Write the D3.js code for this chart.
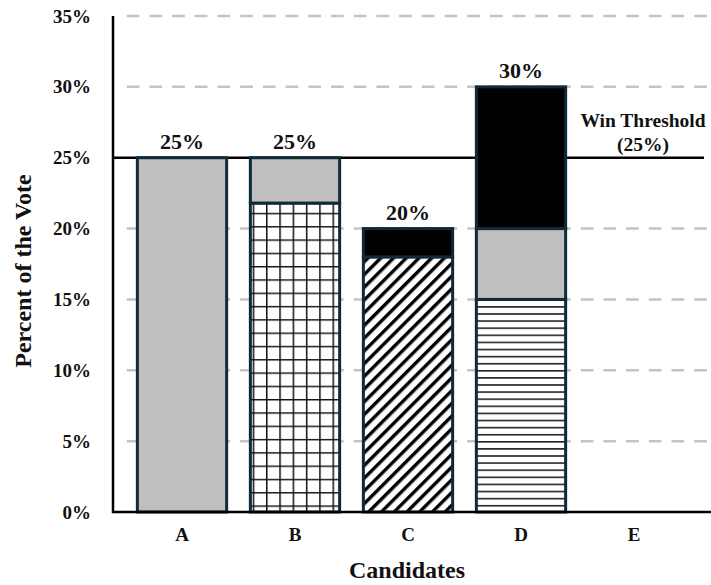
<!DOCTYPE html>
<html><head><meta charset="utf-8">
<script src="https://cdn.jsdelivr.net/npm/d3@7/dist/d3.min.js"></script>
<style>body{margin:0;background:#fff}svg{display:block}text{font-family:"Liberation Serif","Times New Roman",serif;font-weight:bold;fill:#111}</style>
</head><body><svg id="c" width="711" height="585"></svg>
<script>
const categories = ["A","B","C","D","E"];
const totals = [25,25,20,30,null];
const segCategory = ["A","B","B","C","C","D","D","D"];
const segStart = [0,0,21.8,0,18,0,15,20];
const segEnd = [25,21.8,25,18,20,15,20,30];
const segFill = ["gray","grid","gray","diag","black","hlines","gray","black"];
const yTicks = [0,5,10,15,20,25,30,35];
const threshold = 25;

const svg = d3.select("#c");
const y = d3.scaleLinear().domain([0,35]).range([512,16]);
const x = d3.scaleBand().domain(categories).range([125.5,690.5]).paddingInner(0.21).paddingOuter(0.105);

const defs = svg.append("defs");
const grid = defs.append("pattern").attr("id","grid").attr("patternUnits","userSpaceOnUse").attr("width",13.3).attr("height",13.3);
grid.append("rect").attr("width",13.3).attr("height",13.3).attr("fill","#fff");
grid.append("path").attr("d","M0.7,0V13.3M0,0.7H13.3").attr("stroke","#111").attr("stroke-width",1.6);
const diag = defs.append("pattern").attr("id","diag").attr("patternUnits","userSpaceOnUse").attr("width",9).attr("height",9).attr("patternTransform","rotate(45)");
diag.append("rect").attr("width",9).attr("height",9).attr("fill","#fff");
diag.append("rect").attr("width",3.4).attr("height",9).attr("fill","#000");
const hl = defs.append("pattern").attr("id","hlines").attr("patternUnits","userSpaceOnUse").attr("width",10).attr("height",7.1).attr("y",512);
hl.append("rect").attr("width",10).attr("height",7.1).attr("fill","#fff");
hl.append("rect").attr("y",0).attr("width",10).attr("height",1.6).attr("fill","#222");
const fillOf = {gray:"#bfbfbf", black:"#000", grid:"url(#grid)", diag:"url(#diag)", hlines:"url(#hlines)"};

// gridlines
svg.append("g").selectAll("line").data(yTicks.filter(t=>t>0 && t!==threshold)).join("line")
  .attr("x1",126.7).attr("x2",711).attr("y1",d=>y(d)).attr("y2",d=>y(d))
  .attr("stroke","#c4c4c4").attr("stroke-width",2.5).attr("stroke-dasharray","12.7,10");

// threshold line
svg.append("line").attr("x1",113).attr("x2",704).attr("y1",y(threshold)).attr("y2",y(threshold))
  .attr("stroke","#000").attr("stroke-width",2.5);

// bars
svg.append("g").selectAll("rect").data(segCategory.map((c,i)=>i)).join("rect")
  .attr("x",i=>x(segCategory[i])).attr("width",x.bandwidth())
  .attr("y",i=>y(segEnd[i])).attr("height",i=>y(segStart[i])-y(segEnd[i]))
  .attr("fill",i=>fillOf[segFill[i]])
  .attr("stroke","#0f2a3a").attr("stroke-width",3);

// axes
const yAxis = svg.append("g").attr("transform","translate(113,0)")
  .call(d3.axisLeft(y).tickValues(yTicks).tickSize(0).tickPadding(22).tickFormat(d=>d+"%"));
yAxis.select(".domain").remove();
yAxis.selectAll("text").attr("font-size",19).style("font-family","'Liberation Serif',serif").style("font-weight","bold").attr("fill","#111");
svg.append("line").attr("x1",113).attr("x2",113).attr("y1",16).attr("y2",513).attr("stroke","#000").attr("stroke-width",2.5);

const xAxis = svg.append("g").attr("transform","translate(0,512)")
  .call(d3.axisBottom(x).tickSize(0).tickPadding(16));
xAxis.select(".domain").remove();
xAxis.selectAll("text").attr("font-size",19).style("font-family","'Liberation Serif',serif").style("font-weight","bold").attr("fill","#111");
svg.append("line").attr("x1",112).attr("x2",711).attr("y1",512).attr("y2",512).attr("stroke","#000").attr("stroke-width",2.5);

// total labels
svg.append("g").selectAll("text").data(categories.filter((c,i)=>totals[i]!=null)).join("text")
  .attr("x",c=>x(c)+x.bandwidth()/2).attr("y",c=>y(totals[categories.indexOf(c)])-9)
  .attr("text-anchor","middle").attr("font-size",22)
  .text(c=>totals[categories.indexOf(c)]+"%");

// threshold label
const tl = svg.append("text").attr("x",643).attr("y",127).attr("text-anchor","middle").attr("font-size",19.5);
tl.append("tspan").attr("x",643).text("Win Threshold");
tl.append("tspan").attr("x",643).attr("dy",24).text("(25%)");

// axis titles
svg.append("text").attr("x",407).attr("y",578).attr("text-anchor","middle").attr("font-size",24).text("Candidates");
svg.append("text").attr("transform","translate(31,271) rotate(-90)").attr("text-anchor","middle").attr("font-size",24).text("Percent of the Vote");
</script></body></html>
